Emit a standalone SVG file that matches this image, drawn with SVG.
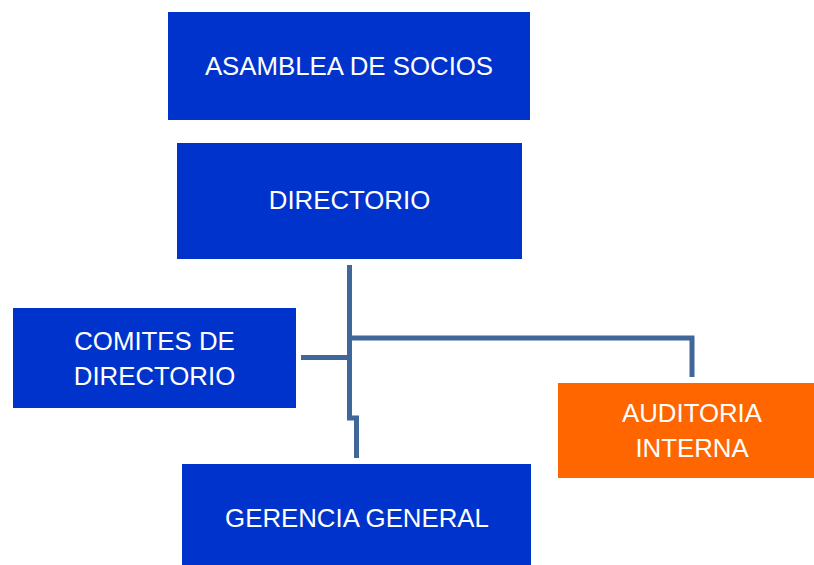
<svg xmlns="http://www.w3.org/2000/svg" width="814" height="565" viewBox="0 0 814 565">
<style>
.box{fill:#0033CC;}
.orange{fill:#FF6600;}
.t{font-family:"Liberation Sans",Arial,sans-serif;font-size:25.8px;fill:#FFFFFF;text-anchor:middle;}
.c{fill:none;stroke:#41679A;stroke-width:5;stroke-linejoin:miter;}
</style>
<rect width="814" height="565" fill="#FFFFFF"/>
<g id="connectors">
<polyline class="c" points="349.5,265 349.5,418 356.5,418 356.5,458"/>
<line class="c" x1="301" y1="357.5" x2="349.5" y2="357.5"/>
<polyline class="c" points="349.5,338 692,338 692,377"/>
</g>
<g id="asamblea">
<rect class="box" x="168" y="12" width="362" height="108"/>
<text class="t" x="349" y="75">ASAMBLEA DE SOCIOS</text>
</g>
<g id="directorio">
<rect class="box" x="177" y="143" width="345" height="116"/>
<text class="t" x="349.5" y="209">DIRECTORIO</text>
</g>
<g id="comites">
<rect class="box" x="13" y="308" width="283" height="100"/>
<text class="t" x="154.5" y="350">COMITES DE</text>
<text class="t" x="154.5" y="385">DIRECTORIO</text>
</g>
<g id="auditoria">
<rect class="orange" x="558" y="383" width="268" height="95"/>
<text class="t" x="692" y="422">AUDITORIA</text>
<text class="t" x="692" y="457">INTERNA</text>
</g>
<g id="gerencia">
<rect class="box" x="182" y="464" width="349" height="101"/>
<text class="t" x="357" y="527">GERENCIA GENERAL</text>
</g>
</svg>
